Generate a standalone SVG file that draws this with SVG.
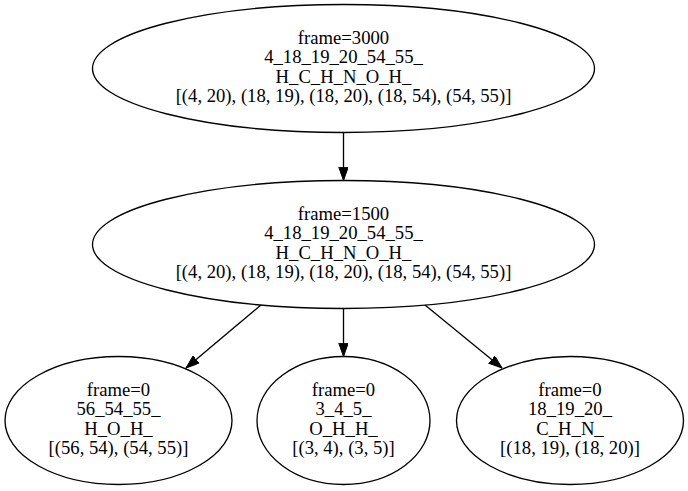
<svg xmlns="http://www.w3.org/2000/svg" width="688" height="491" viewBox="0 0 688 491">
<style>
  .node ellipse { fill: none; stroke: #000; stroke-width: 1.33; }
  .node text { font-family: "Liberation Serif", "Times New Roman", serif; font-size: 18.67px; fill: #000; text-anchor: middle; }
  .edge { stroke: #000; stroke-width: 1.33; fill: none; marker-end: url(#arrow); }
</style>
<defs>
  <marker id="arrow" markerUnits="userSpaceOnUse" markerWidth="14" markerHeight="10" refX="13.3" refY="4.7" orient="auto">
    <polygon points="0,0 13.3,4.7 0,9.4" fill="#000" stroke="#000" stroke-width="1"/>
  </marker>
</defs>
<rect width="688" height="491" fill="#fff"/>
<g id="edges">
  <line class="edge" x1="343.5" y1="132.5" x2="343.5" y2="180.5"/>
  <line class="edge" x1="261" y1="305" x2="186" y2="368"/>
  <line class="edge" x1="343.5" y1="308.5" x2="343.5" y2="356.5"/>
  <line class="edge" x1="425" y1="305" x2="502" y2="368"/>
</g>
<g id="n3000" class="node">
  <ellipse cx="343.5" cy="68.5" rx="251" ry="64"/>
  <text x="343.5" y="43.5">frame=3000</text>
  <text x="343.5" y="63">4_18_19_20_54_55_</text>
  <text x="343.5" y="82.5">H_C_H_N_O_H_</text>
  <text x="343.5" y="102">[(4, 20), (18, 19), (18, 20), (18, 54), (54, 55)]</text>
</g>
<g id="n1500" class="node">
  <ellipse cx="343.5" cy="244.5" rx="251" ry="64"/>
  <text x="343.5" y="219.5">frame=1500</text>
  <text x="343.5" y="239">4_18_19_20_54_55_</text>
  <text x="343.5" y="258.5">H_C_H_N_O_H_</text>
  <text x="343.5" y="278">[(4, 20), (18, 19), (18, 20), (18, 54), (54, 55)]</text>
</g>
<g id="n0a" class="node">
  <ellipse cx="118.5" cy="420.5" rx="113.5" ry="64"/>
  <text x="118.5" y="395.5">frame=0</text>
  <text x="118.5" y="415">56_54_55_</text>
  <text x="118.5" y="434.5">H_O_H_</text>
  <text x="118.5" y="454">[(56, 54), (54, 55)]</text>
</g>
<g id="n0b" class="node">
  <ellipse cx="343.5" cy="420.5" rx="86.5" ry="64"/>
  <text x="343.5" y="395.5">frame=0</text>
  <text x="343.5" y="415">3_4_5_</text>
  <text x="343.5" y="434.5">O_H_H_</text>
  <text x="343.5" y="454">[(3, 4), (3, 5)]</text>
</g>
<g id="n0c" class="node">
  <ellipse cx="570" cy="420.5" rx="113.5" ry="64"/>
  <text x="570" y="395.5">frame=0</text>
  <text x="570" y="415">18_19_20_</text>
  <text x="570" y="434.5">C_H_N_</text>
  <text x="570" y="454">[(18, 19), (18, 20)]</text>
</g>
</svg>
